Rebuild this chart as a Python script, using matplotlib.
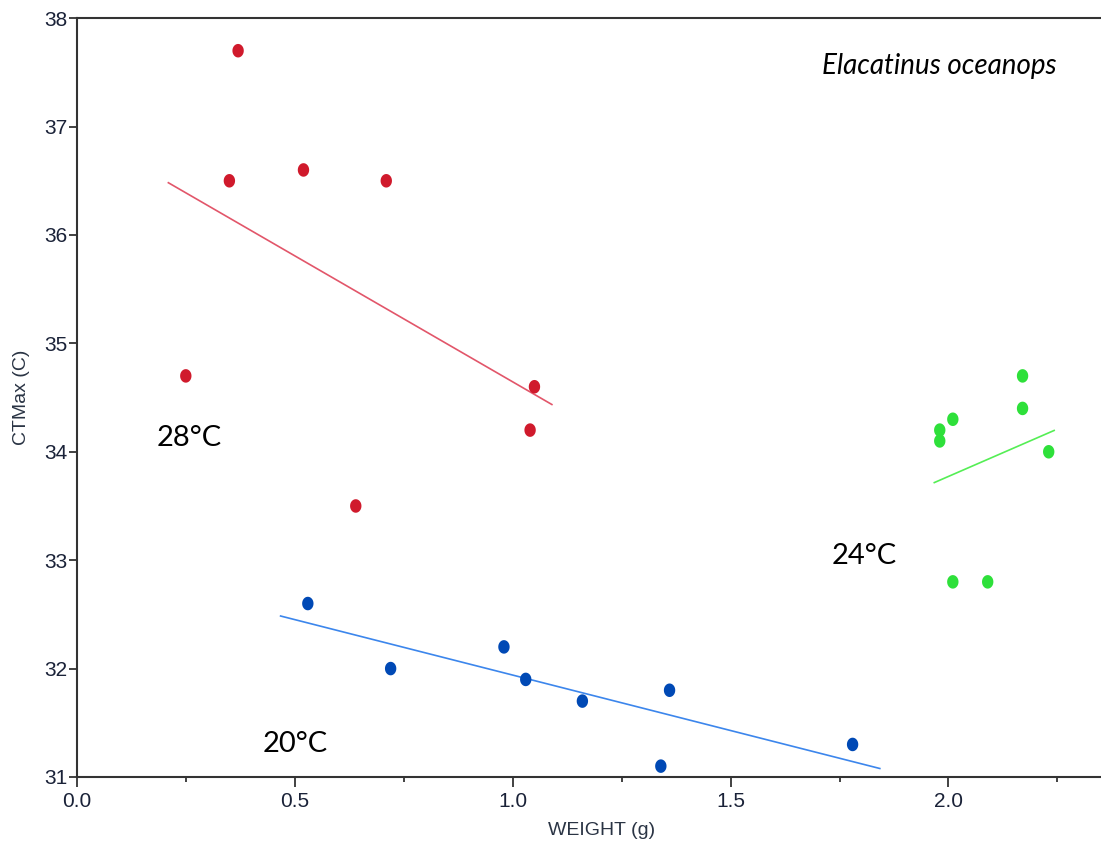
import numpy as np
import matplotlib
matplotlib.use("Agg")
import matplotlib.pyplot as plt
from matplotlib.path import Path
from matplotlib.ticker import MultipleLocator

# CTMax vs body weight, one group per acclimation temperature
w28 = [0.25, 0.35, 0.37, 0.52, 0.64, 0.71, 1.04, 1.05]
ct28 = [34.7, 36.5, 37.7, 36.6, 33.5, 36.5, 34.2, 34.6]
w24 = [1.98, 1.98, 2.01, 2.17, 2.17, 2.23, 2.01, 2.09]
ct24 = [34.2, 34.1, 34.3, 34.7, 34.4, 34.0, 32.8, 32.8]
w20 = [0.53, 0.72, 0.98, 1.03, 1.16, 1.36, 1.34, 1.78]
ct20 = [32.6, 32.0, 32.2, 31.9, 31.7, 31.8, 31.1, 31.3]

groups = [
    ("28°C", w28, ct28, "#D01A2C", "#E2566A", (0.184, 34.13)),
    ("24°C", w24, ct24, "#2EE03A", "#55EE55", (1.731, 33.04)),
    ("20°C", w20, ct20, "#0049B5", "#3C86EC", (0.427, 31.30)),
]

# slightly tall oval, like the squeezed markers in the original
t = np.linspace(0, 2 * np.pi, 40)
oval = Path(np.column_stack([0.84 * np.cos(t), np.sin(t)]), closed=True)

fig = plt.figure(figsize=(11.01, 8.46), dpi=100)
ax = fig.add_axes([0.0698, 0.0816, 0.9302, 0.8969])

for name, x, y, c, lc, (tx, ty) in groups:
    x = np.array(x); y = np.array(y)
    k, b = np.polyfit(x, y, 1)
    pad = 0.05 * (x.max() - x.min())
    xs = np.array([x.min() - pad, x.max() + pad])
    ax.plot(xs, k * xs + b, color=lc, lw=1.2, zorder=2)
    ax.scatter(x, y, s=95, marker=oval, color=c, edgecolor="none", zorder=3)
    ax.text(tx, ty, name, fontsize=21, family="Lato", va="center", ha="left", color="black")

ax.text(0.957, 0.927, "Elacatinus oceanops", transform=ax.transAxes, fontsize=20,
        family="Lato", style="italic", ha="right", va="baseline")

ax.set_xlim(0, 2.35)
ax.set_ylim(31, 38)
ax.xaxis.set_major_locator(MultipleLocator(0.5))
ax.xaxis.set_minor_locator(MultipleLocator(0.25))
ax.yaxis.set_major_locator(MultipleLocator(1))
ax.xaxis.set_major_formatter(plt.FormatStrFormatter("%.1f"))

tick_font = "Liberation Sans"
for lab in ax.get_xticklabels() + ax.get_yticklabels():
    lab.set_family(tick_font)
ax.tick_params(axis="both", which="major", labelsize=15, colors="#333333",
               labelcolor="#1a2238", width=1.3)
ax.tick_params(axis="x", which="major", length=7, pad=4)
ax.tick_params(axis="x", which="minor", length=3.6, width=1.3, colors="#333333")
ax.tick_params(axis="y", which="major", length=6, pad=1)

ax.set_xlabel("WEIGHT (g)", fontsize=14, family=tick_font, color="#2a3444")
ax.set_ylabel("CTMax (C)", fontsize=14, family=tick_font, color="#2a3444")
ax.xaxis.set_label_coords(0.512, -0.06)
ax.yaxis.set_label_coords(-0.046, 0.5)

ax.spines["right"].set_visible(False)
for s in ["left", "bottom", "top"]:
    ax.spines[s].set_color("#333333")
    ax.spines[s].set_linewidth(1.5)

fig.savefig("out.png", dpi=100, facecolor="white")
